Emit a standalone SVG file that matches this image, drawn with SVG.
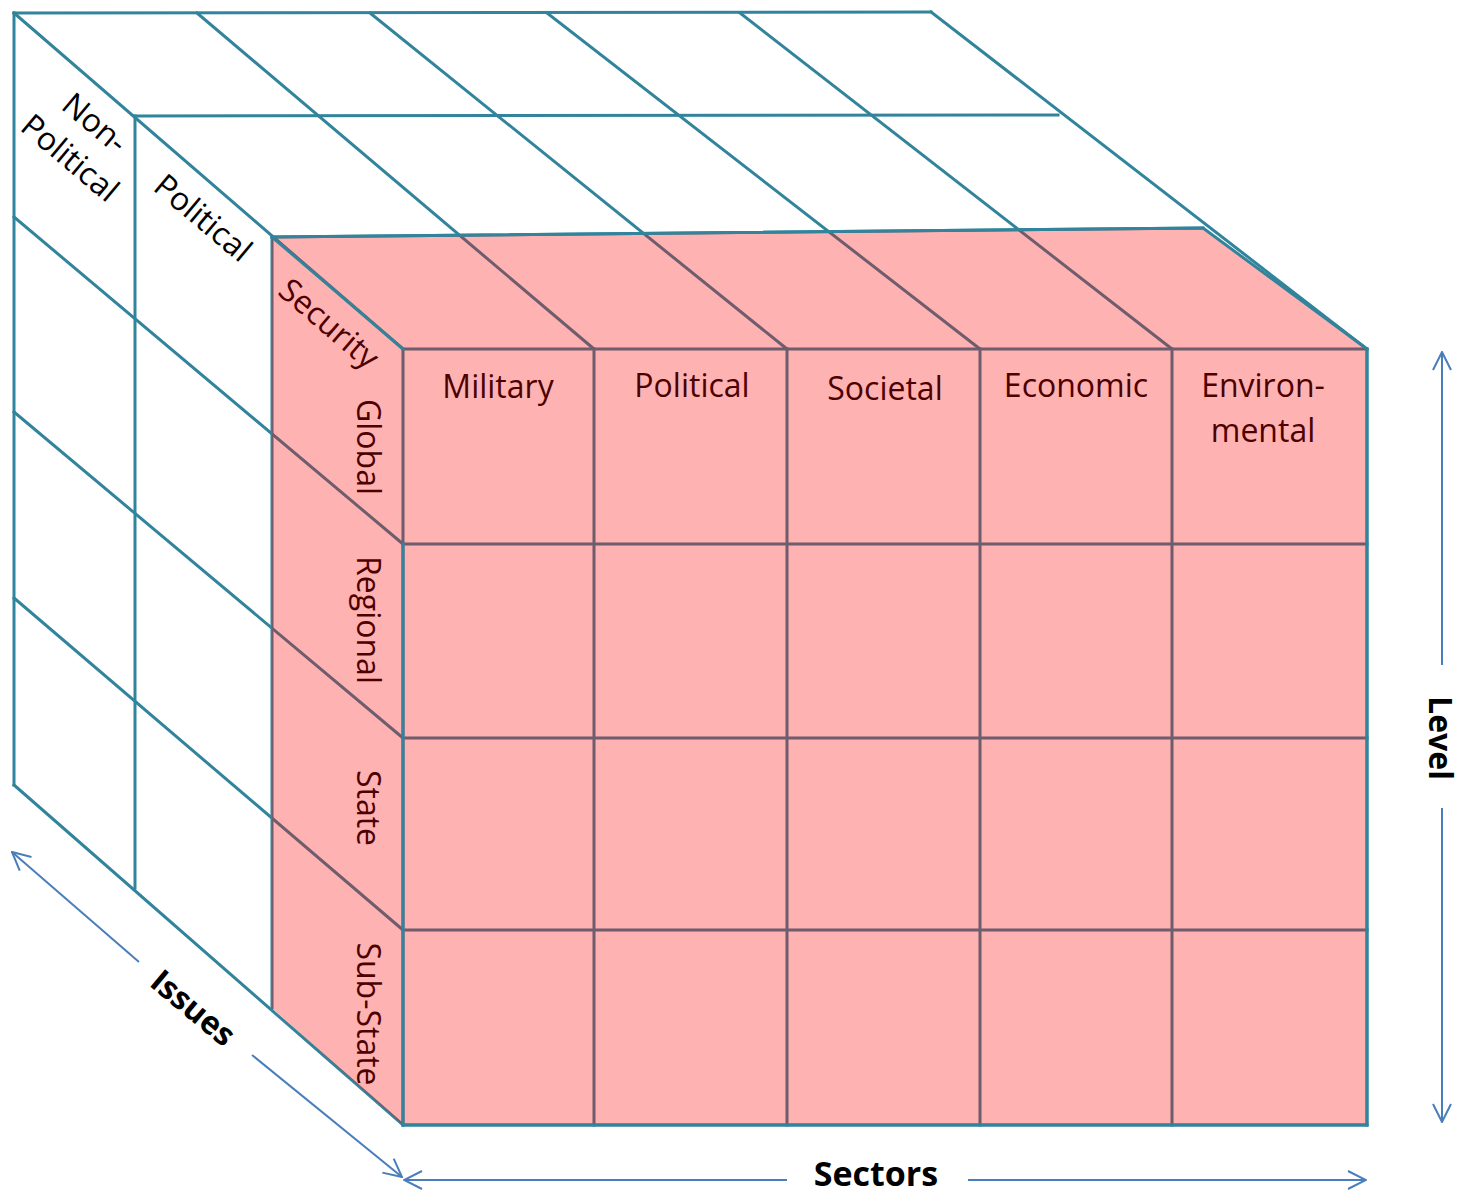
<svg xmlns="http://www.w3.org/2000/svg" width="1464" height="1194" viewBox="0 0 1464 1194">
<defs>
<style>
.w{stroke:#31849B;stroke-width:3;fill:none;stroke-linecap:square;stroke-linejoin:miter}
.ax{stroke:#4A7EBB;stroke-width:2;fill:none}
.lbl{font-family:"Open Sans","Noto Sans",sans-serif;font-size:32px;text-anchor:middle}
.in{fill:#4d0000}
.out{fill:#000000}
.b{font-weight:bold}
</style>
<marker id="ah" viewBox="0 0 20 20" refX="19" refY="10" markerWidth="20" markerHeight="20" markerUnits="userSpaceOnUse" orient="auto">
<path d="M1,1 L19,10 L1,19" fill="none" stroke="#4A7EBB" stroke-width="2"/>
</marker>
</defs>
<rect width="1464" height="1194" fill="#ffffff"/>

<g id="cube-wireframe" class="w">
<path d="M14,13 L931,12 M135,116 L1058,115 M272,237 L1203,228"/>
<path d="M14,13 L403,349 M197,13 L594,349 M370,13 L787,349 M547,13 L980,349 M740,13 L1172,349 M931,12 L1367,349"/>
<path d="M14,13 V785 M135,116 V888 M272,237 V1008 M403,349 V1125"/>
<path d="M14,217 L403,544 M14,412 L403,738 M14,598 L403,930 M14,785 L403,1125"/>
<path d="M403,349 H1367 M403,544 H1367 M403,738 H1367 M403,930 H1367 M403,1125 H1367"/>
<path d="M594,349 V1125 M787,349 V1125 M980,349 V1125 M1172,349 V1125 M1367,349 V1125"/>
</g>

<g id="security-layer">
<polygon points="272,237 1203,228 1367,349 1367,1125 403,1125 272,1008" fill="#ff0000" fill-opacity="0.3"/>
<path class="w" d="M272,237 L1203,228 L1367,349 V1125 H403 V544 M272,237 L403,349"/>
</g>

<g id="issue-labels">
<g id="issue-nonpolitical" class="lbl out">
<text transform="translate(95,123) rotate(40)" y="11">Non-</text>
<text transform="translate(70,158) rotate(40)" y="11">Political</text>
</g>
<g id="issue-political" class="lbl out">
<text transform="translate(203,218) rotate(40)" y="11">Political</text>
</g>
<g id="issue-security" class="lbl in">
<text transform="translate(327,326) rotate(40.5)" y="8">Security</text>
</g>
</g>

<g id="level-labels" class="lbl in">
<text id="level-global" transform="translate(357,447) rotate(90)">Global</text>
<text id="level-regional" transform="translate(357,620) rotate(90)">Regional</text>
<text id="level-state" transform="translate(357,808) rotate(90)">State</text>
<text id="level-substate" transform="translate(357,1014) rotate(90)">Sub-State</text>
</g>

<g id="sector-labels" class="lbl in">
<text id="sector-military" x="498" y="398">Military</text>
<text id="sector-political" x="692" y="397">Political</text>
<text id="sector-societal" x="885" y="400">Societal</text>
<text id="sector-economic" x="1076" y="397">Economic</text>
<text id="sector-environmental" x="1263" y="397">Environ-<tspan x="1263" y="442">mental</tspan></text>
</g>

<g id="axes">
<path class="ax" d="M1442,665 V352" marker-end="url(#ah)"/>
<path class="ax" d="M1442,808 V1122" marker-end="url(#ah)"/>
<path class="ax" d="M787,1180 H404" marker-end="url(#ah)"/>
<path class="ax" d="M968,1180 H1366" marker-end="url(#ah)"/>
<path class="ax" d="M139,962 L12,852" marker-end="url(#ah)"/>
<path class="ax" d="M252,1055 L402,1177" marker-end="url(#ah)"/>
</g>

<g id="axis-labels" class="lbl out b">
<text id="axis-level" transform="translate(1429,738) rotate(90)">Level</text>
<text id="axis-sectors" x="876" y="1186" style="font-size:34px">Sectors</text>
<text id="axis-issues" transform="translate(193,1008) rotate(39.8)" y="11">Issues</text>
</g>
</svg>
